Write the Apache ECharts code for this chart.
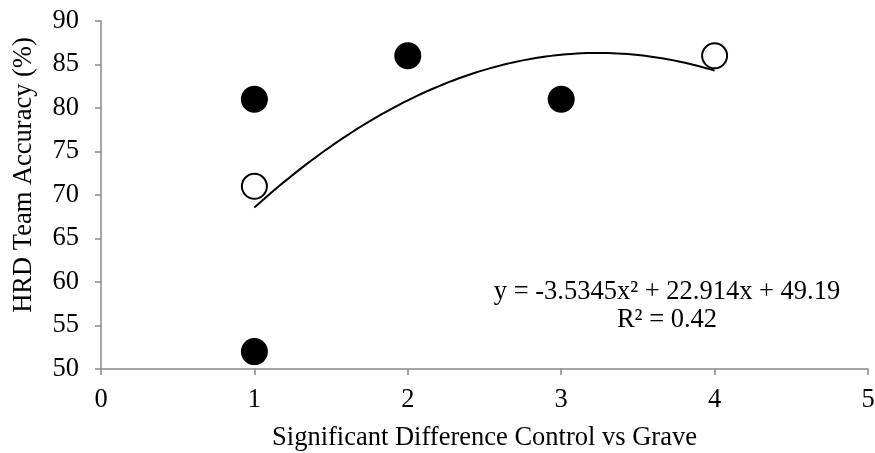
<!DOCTYPE html>
<html>
<head>
<meta charset="utf-8">
<script src="https://cdn.jsdelivr.net/npm/echarts@6/dist/echarts.min.js"></script>
<style>
  html, body { margin: 0; padding: 0; background: #fff; }
  #chart { width: 875px; height: 453px; }
</style>
</head>
<body>
<div id="chart"></div>
<script>
// Team accuracy against the number of significant differences (control vs grave)
const filledX = [1, 1, 2, 3];
const filledY = [81, 52, 86, 81];
const openX = [1, 4];
const openY = [71, 86];

// Second-order polynomial trendline: y = a*x^2 + b*x + c
const trendCoef = [-3.5345, 22.914, 49.19];
const trendRange = [1, 4];
const trendLabel = ['y = -3.5345x² + 22.914x + 49.19', 'R² = 0.42'];

const xTicks = [0, 1, 2, 3, 4, 5];
const yTicks = [50, 55, 60, 65, 70, 75, 80, 85, 90];

const FONT = '"Liberation Serif", "Times New Roman", serif';
const FS = 26.5;

function pairs(xs, ys) {
  return xs.map((x, i) => [x, ys[i]]);
}

function trendPoints() {
  const pts = [];
  const n = 90;
  for (let i = 0; i <= n; i++) {
    const x = trendRange[0] + (trendRange[1] - trendRange[0]) * i / n;
    pts.push([x, trendCoef[0] * x * x + trendCoef[1] * x + trendCoef[2]]);
  }
  return pts;
}

const axisLine = { lineStyle: { color: '#898989', width: 1.5 } };
const axisTick = { length: 6, lineStyle: { color: '#898989', width: 1.5 } };

const chart = echarts.init(document.getElementById('chart'), null, { renderer: 'canvas' });
chart.setOption({
  animation: false,
  backgroundColor: '#ffffff',
  grid: { left: 101, right: 7, top: 21, bottom: 84, containLabel: false, outerBoundsMode: 'none' },
  xAxis: {
    type: 'value',
    min: xTicks[0],
    max: xTicks[xTicks.length - 1],
    interval: xTicks[1] - xTicks[0],
    name: 'Significant Difference Control vs Grave',
    nameLocation: 'middle',
    nameGap: 56,
    nameTextStyle: { fontFamily: FONT, fontSize: FS, color: '#000' },
    axisLine: axisLine,
    axisTick: axisTick,
    splitLine: { show: false },
    axisLabel: { fontFamily: FONT, fontSize: FS, color: '#000', margin: 18 }
  },
  yAxis: {
    type: 'value',
    min: yTicks[0],
    max: yTicks[yTicks.length - 1],
    interval: yTicks[1] - yTicks[0],
    name: 'HRD Team Accuracy (%)',
    nameLocation: 'middle',
    nameGap: 63,
    nameTextStyle: { fontFamily: FONT, fontSize: FS, color: '#000', padding: [0, 0, 0, 40] },
    axisLine: axisLine,
    axisTick: axisTick,
    splitLine: { show: false },
    axisLabel: { fontFamily: FONT, fontSize: FS, color: '#000', margin: 22 }
  },
  series: [
    {
      type: 'scatter',
      data: pairs(filledX, filledY),
      symbol: 'circle',
      symbolSize: 27,
      itemStyle: { color: '#000', borderWidth: 0, opacity: 1 },
      z: 2
    },
    {
      type: 'scatter',
      data: pairs(openX, openY),
      symbol: 'circle',
      symbolSize: 25,
      itemStyle: { color: '#fff', borderColor: '#000', borderWidth: 2, opacity: 1 },
      z: 2
    },
    {
      type: 'line',
      data: trendPoints(),
      showSymbol: false,
      smooth: false,
      lineStyle: { color: '#000', width: 2 },
      z: 3
    }
  ],
  graphic: [
    {
      type: 'text',
      style: {
        x: 667,
        y: 278,
        text: trendLabel.join('\n'),
        fontFamily: FONT,
        fontSize: FS,
        lineHeight: 28,
        fill: '#000',
        align: 'center',
        verticalAlign: 'top'
      }
    }
  ]
});
</script>
</body>
</html>
